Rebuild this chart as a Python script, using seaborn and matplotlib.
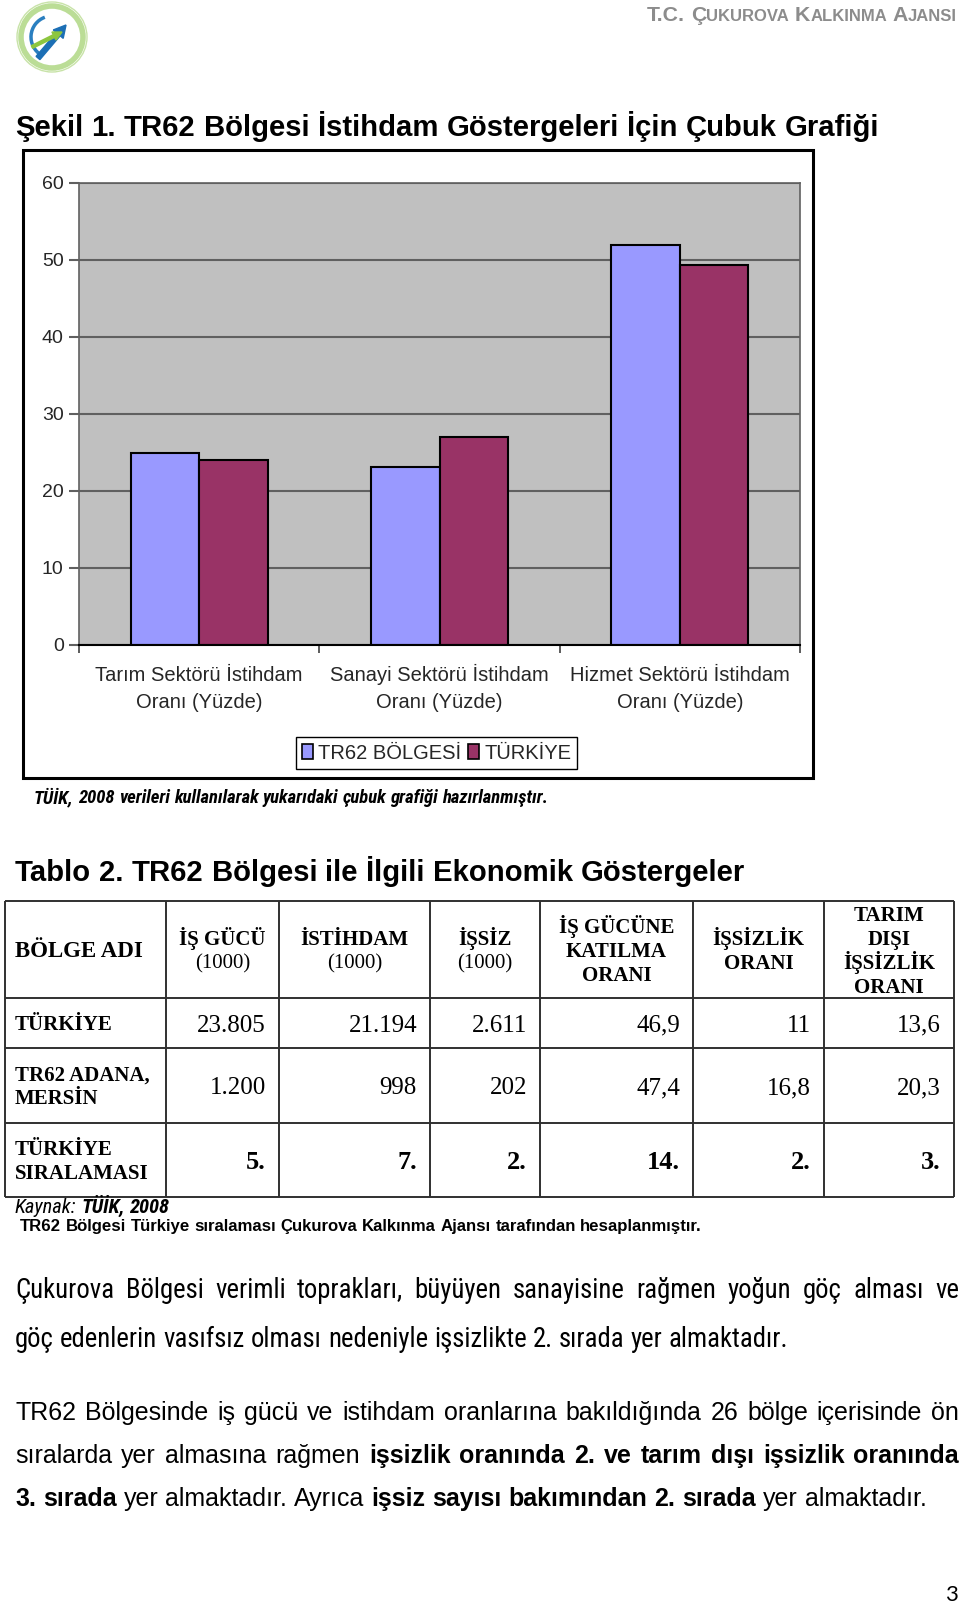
import numpy as np
import pandas as pd
import matplotlib
matplotlib.use("Agg")
import matplotlib.pyplot as plt
import seaborn as sns
from matplotlib import font_manager
from matplotlib.transforms import blended_transform_factory
from matplotlib.patches import Rectangle, Patch, Circle, Arc, FancyArrow

# ---------------- data ----------------
kategoriler = ["Tarım Sektörü İstihdam\nOranı (Yüzde)",
               "Sanayi Sektörü İstihdam\nOranı (Yüzde)",
               "Hizmet Sektörü İstihdam\nOranı (Yüzde)"]
seriler = ["TR62 BÖLGESİ", "TÜRKİYE"]
tr62_degerler = [24.9, 23.1, 52.0]
turkiye_degerler = [24.0, 27.0, 49.4]
y_tick_degerleri = [0, 10, 20, 30, 40, 50, 60]

tablo_basliklari = [
    [("İŞ GÜCÜ", "bold"), ("(1000)", "normal")],
    [("İSTİHDAM", "bold"), ("(1000)", "normal")],
    [("İŞSİZ", "bold"), ("(1000)", "normal")],
    [("İŞ GÜCÜNE", "bold"), ("KATILMA", "bold"), ("ORANI", "bold")],
    [("İŞSİZLİK", "bold"), ("ORANI", "bold")],
    [("TARIM", "bold"), ("DIŞI", "bold"), ("İŞSİZLİK", "bold"), ("ORANI", "bold")],
]
ilk_sutun_basligi = "BÖLGE ADI"
satir_adlari = [["TÜRKİYE"], ["TR62 ADANA,", "MERSİN"], ["TÜRKİYE", "SIRALAMASI"]]
turkiye_satiri = ["23.805", "21.194", "2.611", "46,9", "11", "13,6"]
tr62_satiri = ["1.200", "998", "202", "47,4", "16,8", "20,3"]
siralama_satiri = ["5.", "7.", "2.", "14.", "2.", "3."]

# ---------------- fonts ----------------
sns.set_style("white")
entries = font_manager.fontManager.ttflist
names = {f.name for f in entries}
SANS = ["Liberation Sans", "DejaVu Sans"]
SERIF = ["Liberation Serif", "DejaVu Serif"]
COND = dict(family=SANS)
for cand in ["Liberation Sans Narrow", "Arial Narrow", "Roboto Condensed", "Open Sans Condensed",
             "DejaVu Sans Condensed", "Noto Sans Condensed"]:
    if cand in names:
        COND = dict(family=[cand] + SANS)
        break
else:
    for f in entries:
        if f.name in ("Noto Sans", "DejaVu Sans", "Roboto", "Open Sans") and \
                str(f.stretch) in ("condensed", "semi-condensed"):
            COND = dict(family=[f.name] + SANS, stretch=str(f.stretch))
            break
plt.rcParams["font.family"] = SANS

W, H = 960, 1605
fig = plt.figure(figsize=(W / 100, H / 100), dpi=100)
fig.patch.set_facecolor("white")
ov = fig.add_axes([0, 0, 1, 1])
ov.set_xlim(0, W)
ov.set_ylim(H, 0)
ov.axis("off")
renderer = fig.canvas.get_renderer()


def tw(s, **kw):
    t = ov.text(0, 0, s, **kw)
    w = t.get_window_extent(renderer=renderer).width
    t.remove()
    return w


def sc(kw, scale):
    d = dict(kw)
    d["fontsize"] = kw["fontsize"] * scale
    return d


def words_of(runs):
    words, cur = [], []
    for text, kw in runs:
        for ch in text:
            if ch == " ":
                if cur:
                    words.append(cur)
                    cur = []
            else:
                if cur and cur[-1][1] is kw:
                    cur[-1] = (cur[-1][0] + ch, kw)
                else:
                    cur.append((ch, kw))
    if cur:
        words.append(cur)
    return words


def metrics(runs, scale):
    words = words_of(runs)
    ws = [sum(tw(s, **sc(kw, scale)) for s, kw in w) for w in words]
    k0 = sc(runs[0][1], scale)
    sp = tw("a a", **k0) - tw("aa", **k0)
    return words, ws, sp


def draw_line(runs, x, y, target=None, justify=False, scale=None):
    if scale is None:
        scale = 1.0
        if target is not None and not justify:
            words, ws, sp = metrics(runs, 1.0)
            scale = target / (sum(ws) + sp * (len(ws) - 1))
    words, ws, sp = metrics(runs, scale)
    if justify and len(ws) > 1:
        sp = (target - sum(ws)) / (len(ws) - 1)
    cx = x
    for w, wd in zip(words, ws):
        for s, kw in w:
            d = sc(kw, scale)
            ov.text(cx, y, s, ha="left", va="baseline", **d)
            cx += tw(s, **d)
        cx += sp
    return scale


# ---------------- header & logo ----------------
ov.add_patch(Circle((52, 37), 31, fill=False, edgecolor="#9fcf6a", lw=4, alpha=0.7))
ov.add_patch(Circle((52, 37), 35, fill=False, edgecolor="#c8e3a8", lw=1))
ov.add_patch(Arc((52, 37), 42, 42, theta1=120, theta2=250, color="#2a7fc0", lw=2.5))
ov.add_patch(FancyArrow(38, 58, 28, -33, width=5, head_width=13, head_length=12,
                        length_includes_head=True, color="#1c6fb5"))
ov.add_patch(FancyArrow(32, 47, 30, -15, width=3, head_width=9, head_length=9,
                        length_includes_head=True, color="#8dc63f"))

LG = dict(fontsize=14, family=SANS, weight="bold", color="#8c8c8c")
SM = dict(fontsize=11, family=SANS, weight="bold", color="#8c8c8c")
draw_line([("T.C. Ç", LG), ("UKUROVA ", SM), ("K", LG), ("ALKINMA ", SM), ("A", LG), ("JANSI", SM)],
          647, 21, target=310)

TITLE = dict(fontsize=20, family=SANS, weight="bold", color="black")
draw_line([("Şekil 1. TR62 Bölgesi İstihdam Göstergeleri İçin Çubuk Grafiği", TITLE)], 15, 136, target=862)

# ---------------- chart ----------------
ov.add_patch(Rectangle((23, 150), 790, 628, fill=False, lw=2.2, edgecolor="black"))

renk = ["#9999FF", "#993366"]
df = pd.DataFrame({
    "kategori": kategoriler * 2,
    "seri": [seriler[0]] * 3 + [seriler[1]] * 3,
    "deger": tr62_degerler + turkiye_degerler,
})
ax = fig.add_axes([79 / W, 1 - 645 / H, 721 / W, 462 / H])
sns.barplot(data=df, x="kategori", y="deger", hue="seri", order=kategoriler, hue_order=seriler,
            palette=renk, saturation=1, width=0.57, edgecolor="black", linewidth=1.5,
            legend=False, errorbar=None, ax=ax)
ax.set_facecolor("#C0C0C0")
ax.set_ylim(0, 60)
ax.set_xlim(-0.5, 2.5)
ax.set_yticks(y_tick_degerleri)
ax.set_xlabel("")
ax.set_ylabel("")
ax.yaxis.grid(True, color="#606060", linewidth=1.5)
ax.xaxis.grid(False)
ax.set_axisbelow(True)
ax.tick_params(axis="y", length=7, width=1.5, color="#606060", pad=4, labelsize=14, left=True)
ax.tick_params(axis="x", which="major", length=0, labelbottom=False)
ax.set_xticks([-0.5, 0.5, 1.5, 2.5], minor=True)
ax.tick_params(axis="x", which="minor", length=6, width=1.2, color="#404040", bottom=True)
for s in ["left", "top", "right"]:
    ax.spines[s].set_color("#606060")
    ax.spines[s].set_linewidth(1.2)
ax.spines["bottom"].set_color("black")
ax.spines["bottom"].set_linewidth(1.5)

# category labels placed under each category position of the x scale
lbl_tr = blended_transform_factory(ax.transData, ov.transData)
for i, kat in enumerate(kategoriler):
    for j, satir in enumerate(kat.split("\n")):
        ax.text(i, 681 + 26.5 * j, satir, transform=lbl_tr, ha="center", va="baseline",
                fontsize=14.5, family=SANS, clip_on=False)

handles = [Patch(facecolor=c, edgecolor="black", linewidth=1.2) for c in renk]
leg = ax.legend(handles, seriler, loc="center", bbox_to_anchor=(436.5 / W, 1 - 753 / H),
                bbox_transform=fig.transFigure, ncol=2, frameon=True, fancybox=False,
                edgecolor="black", framealpha=1, fontsize=14.5, handlelength=0.55,
                handleheight=0.75, handletextpad=0.25, columnspacing=0.35, borderpad=0.3,
                borderaxespad=0)
leg.get_frame().set_linewidth(1.0)

CAP = dict(fontsize=12, weight="bold", style="italic", color="black", **COND)
draw_line([("TÜİK, 2008  verileri kullanılarak yukarıdaki çubuk grafiği hazırlanmıştır.", CAP)],
          34, 803, target=516)

# ---------------- table ----------------
draw_line([("Tablo 2. TR62 Bölgesi ile İlgili Ekonomik Göstergeler", TITLE)], 15, 881, target=729)

xe = [5, 166, 279, 430, 540, 693, 824, 954]
ye = [901, 998, 1048, 1123, 1197]
lc = "#303030"
for y in ye:
    ov.plot([xe[0], xe[-1]], [y, y], color=lc, lw=1.4, solid_capstyle="butt")
for x in xe:
    ov.plot([x, x], [ye[0], ye[-1]], color=lc, lw=1.4, solid_capstyle="butt")


def cell(x, yc, s, ha, size, weight):
    em = size * 100 / 72
    ov.text(x, yc + 0.34 * em, s, ha=ha, va="baseline", fontsize=size, weight=weight,
            family=SERIF, color="black")


hc = (ye[0] + ye[1]) / 2
cell(15, hc, ilk_sutun_basligi, "left", 16.5, "bold")
for i, lines in enumerate(tablo_basliklari):
    cx = (xe[i + 1] + xe[i + 2]) / 2
    n = len(lines)
    for j, (t, wgt) in enumerate(lines):
        cell(cx, hc + (j - (n - 1) / 2) * 24, t, "center", 15, wgt)

rows = [turkiye_satiri, tr62_satiri, siralama_satiri]
weights = ["normal", "normal", "bold"]
sizes = [18, 18, 19]
for r in range(3):
    rc = (ye[r + 1] + ye[r + 2]) / 2
    lab = satir_adlari[r]
    n = len(lab)
    for j, t in enumerate(lab):
        cell(15, rc + (j - (n - 1) / 2) * 23.5, t, "left", 15, "bold")
    for c, v in enumerate(rows[r]):
        cell(xe[c + 2] - 13, rc, v, "right", sizes[r], weights[r])

NI = dict(fontsize=12, style="italic", color="black", **COND)
NBI = dict(fontsize=12, style="italic", weight="bold", color="black", **COND)
draw_line([("Kaynak: ", NI), ("TÜİK, 2008", NBI)], 15, 1213, target=154)
NB = dict(fontsize=12, family=SANS, weight="bold", color="black")
draw_line([("TR62 Bölgesi Türkiye sıralaması Çukurova Kalkınma Ajansı tarafından hesaplanmıştır.", NB)],
          20, 1231, target=682)

# ---------------- paragraphs ----------------
P1 = dict(fontsize=16, color="black", **COND)
s1 = draw_line([("göç edenlerin vasıfsız olması nedeniyle işsizlikte 2. sırada yer almaktadır.", P1)],
               15, 1347, target=778)
draw_line([("Çukurova Bölgesi verimli toprakları, büyüyen sanayisine rağmen yoğun göç alması ve", P1)],
          15, 1298, target=944, justify=True, scale=s1)

R = dict(fontsize=16, family=SANS, color="black")
B = dict(fontsize=16, family=SANS, weight="bold", color="black")
s2 = draw_line([("3. sırada", B), (" yer almaktadır. Ayrıca ", R), ("işsiz sayısı bakımından 2. sırada", B),
                (" yer almaktadır.", R)], 15, 1506, target=914)
draw_line([("TR62 Bölgesinde iş gücü ve istihdam oranlarına bakıldığında 26 bölge içerisinde ön", R)],
          15, 1420, target=944, justify=True, scale=s2)
draw_line([("sıralarda yer almasına rağmen ", R), ("işsizlik oranında 2. ve tarım dışı işsizlik oranında", B)],
          15, 1463, target=944, justify=True, scale=s2)

ov.text(958, 1601, "3", ha="right", va="baseline", fontsize=16, family=["Lato", "DejaVu Sans"], color="black")

fig.savefig("out.png", dpi=100, facecolor="white")
